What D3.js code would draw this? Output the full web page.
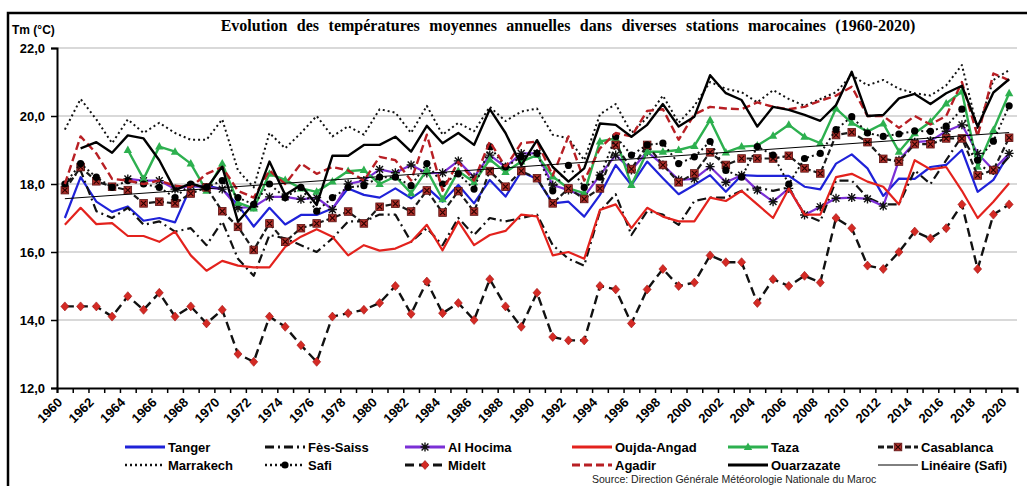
<!DOCTYPE html>
<html>
<head>
<meta charset="utf-8">
<script src="https://cdn.jsdelivr.net/npm/d3@7"></script>
<style>
  body { margin: 0; background: #fff; }
  svg { display: block; }
</style>
</head>
<body>
<svg id="chart" width="1027" height="486"></svg>
<script>
// Annual mean temperatures (°C) per station, 1960-2020
const years = d3.range(1960, 2021);
const yTicks = [12, 14, 16, 18, 20, 22];
const xLabelYears = years.filter(y => (y - 1960) % 2 === 0);

const tanger = [17.0, 18.2, 17.48, 17.18, 17.34, 16.92, 17.0, 16.87, 17.92, 17.95,
  17.85, 17.38, 16.75, 17.3, 16.81, 17.09, 17.09, 17.28, 17.87, 17.68,
  17.6, 17.87, 17.58, 17.9, 17.48, 17.97, 17.43, 18.12, 17.63, 18.36,
  18.15, 17.43, 17.48, 17.04, 17.68, 18.56, 17.97, 18.66, 18.17, 17.7,
  17.97, 18.26, 17.77, 18.26, 18.24, 18.24, 18.24, 17.92, 17.84, 18.6,
  18.87, 18.46, 17.65, 18.16, 18.15, 18.5, 18.56, 19.0, 17.77, 18.12,
  18.9];
const fesSaiss = [18.0, 18.4, 17.2, 17.0, 17.3, 16.8, 16.9, 16.6, 16.7, 16.2,
  16.9, 15.8, 15.3, 16.5, 16.4, 16.2, 16.0, 16.4, 16.9, 16.9,
  17.1, 17.1, 16.3, 16.7, 16.2, 17.0, 16.5, 17.0, 16.9, 17.0,
  17.1, 16.2, 15.8, 15.6, 17.2, 17.7, 16.5, 17.2, 17.1, 16.8,
  17.5, 17.6, 17.6, 17.8, 17.9, 17.8, 17.9, 17.1, 16.9, 18.1,
  18.1, 17.6, 17.4, 17.4, 18.4, 18.0, 18.7, 19.4, 18.6, 18.3,
  18.8];
const alHocima = [null, null, null, null, 18.15, 18.1, 18.1, 17.85, 17.95, 17.9,
  17.85, 17.3, 17.33, 17.62, 17.62, 17.55, 17.6, 17.25, 18.0, 18.1,
  18.43, 18.33, 18.56, 18.32, 18.33, 18.68, 18.2, 18.85, 18.5, 18.9,
  18.9, 17.97, 17.82, 17.63, 18.26, 18.85, 18.41, 18.95, 18.56, 18.12,
  18.15, 18.51, 18.05, 18.26, 17.82, 17.48, 17.87, 17.09, 17.33, 17.58,
  17.6, 17.56, 17.35, 18.7, 19.23, 19.27, 19.55, 19.74, 18.9, 18.41,
  18.9];
const oujdaAngad = [16.8, 17.3, 16.82, 16.85, 16.47, 16.47, 16.3, 16.6, 15.9, 15.45,
  15.74, 15.6, 15.55, 15.55, 16.15, 16.45, 16.67, 16.45, 15.9, 16.2,
  16.04, 16.1, 16.3, 16.8, 16.05, 16.9, 16.2, 16.5, 16.62, 17.1,
  17.05, 15.9, 16.0, 15.8, 17.24, 17.4, 16.7, 17.3, 17.04, 16.9,
  16.9, 17.6, 17.5, 17.8, 17.4, 17.0, 17.87, 17.1, 17.1, 18.2,
  18.3, 18.07, 17.92, 17.4, 18.7, 18.43, 18.5, 17.8, 17.0, 17.48,
  18.02];
const taza = [null, null, null, null, 19.0, 18.15, 19.1, 18.95, 18.6, 17.8,
  18.6, 17.45, 17.28, 18.3, 18.12, 17.87, 17.77, 18.07, 18.38, 18.41,
  18.0, 18.22, 17.73, 18.41, 17.55, 18.38, 18.05, 18.72, 18.35, 18.66,
  18.85, 18.22, 17.87, 17.73, 19.25, 19.34, 17.97, 18.95, 18.95, 19.0,
  19.12, 19.88, 18.93, 19.1, 19.13, 19.42, 19.74, 19.39, 19.2, 20.22,
  19.8, 19.54, 19.78, 18.95, 19.49, 19.83, 20.37, 20.72, 18.51, 19.59,
  20.67];
const casablanca = [17.82, 18.5, 18.08, 17.92, 17.82, 17.43, 17.48, 17.43, 17.72, 17.9,
  17.2, 16.74, 16.06, 16.84, 16.3, 16.7, 16.84, 17.0, 17.19, 16.84,
  17.33, 17.42, 17.19, 17.81, 17.16, 17.79, 17.19, 18.38, 17.92, 18.38,
  18.17, 17.43, 17.87, 17.56, 17.87, 19.15, 18.44, 19.15, 18.56, 18.05,
  18.31, 18.93, 18.56, 18.75, 18.75, 18.75, 18.83, 18.46, 18.31, 19.44,
  19.52, 19.23, 18.74, 18.66, 19.17, 19.17, 19.34, 19.34, 18.25, 18.41,
  19.36];
const marrakech = [19.6, 20.5, 19.9, 19.2, 19.9, 19.5, 19.8, 19.5, 19.3, 19.3,
  19.9, 18.4, 17.9, 19.5, 19.05, 19.5, 20.0, 19.4, 19.7, 19.45,
  20.2, 20.1, 19.5, 20.3, 19.45, 19.8, 19.55, 20.27, 19.85, 20.13,
  20.22, 19.45, 19.34, 18.7, 20.05, 20.35, 19.5, 19.95, 20.6, 19.8,
  20.3, 21.0, 20.8, 20.7, 20.4, 20.76, 20.5, 20.3, 20.5, 20.7,
  21.2, 20.9, 21.06, 20.8, 20.67, 20.6, 20.9, 21.5, 19.6, 21.06,
  21.35];
const safi = [18.0, 18.6, 18.2, 17.9, 18.1, 18.0, 17.9, 17.6, 18.0, 17.9,
  18.1, 17.6, 17.4, 18.0, 17.6, 17.9, 17.2, 17.6, 17.9, 17.95,
  18.2, 18.2, 17.95, 18.6, 18.0, 18.3, 17.85, 19.1, 18.5, 18.8,
  18.9, 17.8, 18.55, 17.9, 18.2, 19.4, 18.85, 19.15, 19.2, 18.6,
  18.8, 19.25, 18.4, 18.2, 19.1, 18.85, 18.0, 18.75, 18.9, 19.6,
  19.98, 19.5, 19.4, 19.47, 19.56, 19.55, 19.7, 20.2, 18.7, 19.26,
  20.3];
const midelt = [14.4, 14.4, 14.4, 14.1, 14.7, 14.3, 14.8, 14.1, 14.4, 13.9,
  14.3, 13.0, 12.77, 14.1, 13.8, 13.26, 12.77, 14.1, 14.2, 14.3,
  14.5, 15.0, 14.18, 15.13, 14.2, 14.5, 14.0, 15.2, 14.4, 13.8,
  14.8, 13.5, 13.4, 13.4, 15.0, 14.9, 13.9, 14.9, 15.5, 15.0,
  15.1, 15.9, 15.7, 15.7, 14.5, 15.2, 15.0, 15.3, 15.1, 17.0,
  16.7, 15.6, 15.5, 16.0, 16.6, 16.4, 16.7, 17.4, 15.5, 17.1,
  17.4];
const agadir = [18.0, 19.4, 18.9, 18.15, 18.1, 18.0, 18.1, 17.95, 17.9, 18.3,
  18.5, 17.8, 17.6, 18.4, 18.0, 18.6, 18.3, 18.5, 18.4, 18.1,
  18.8, 18.7, 18.1, 19.45, 17.8, 18.65, 18.1, 19.25, 18.5, 19.2,
  19.25, 18.25, 19.4, 18.1, 19.05, 19.5, 19.4, 20.15, 20.2, 19.3,
  20.05, 20.27, 20.22, 20.2, 20.4, 20.27, 20.2, 20.27, 20.45, 20.6,
  20.86, 20.0, 20.0, 19.65, 20.0, 19.75, 20.0, 21.0, 19.4, 21.25,
  21.05];
const ouarzazate = [null, 19.05, 19.23, 18.92, 19.43, 19.34, 18.7, 17.82, 18.02, 17.87,
  18.51, 16.89, 17.43, 18.66, 17.68, 17.97, 17.38, 18.83, 18.83, 19.15,
  19.15, 19.39, 18.95, 19.71, 19.2, 19.5, 19.15, 20.2, 19.5, 18.55,
  19.29, 18.5, 18.07, 18.46, 19.78, 19.74, 19.39, 19.74, 20.35, 19.69,
  19.98, 21.2, 20.67, 20.47, 19.69, 20.27, 20.18, 20.03, 19.86, 20.32,
  21.3, 20.0, 20.03, 20.52, 20.65, 20.35, 20.67, 20.89, 19.69, 20.69,
  21.08];

// Series drawing styles (legend order)
const series = [
  { name: "Tanger",      values: tanger,     color: "#1f22d8", width: 2.2, dash: null },
  { name: "Fès-Saiss",   values: fesSaiss,   color: "#111",    width: 2.2, dash: "9,4,2,4" },
  { name: "Al Hocima",   values: alHocima,   color: "#7b2fd6", width: 2.2, dash: null, marker: "asterisk" },
  { name: "Oujda-Angad", values: oujdaAngad, color: "#e3221d", width: 2.2, dash: null },
  { name: "Taza",        values: taza,       color: "#2db04f", width: 2.4, dash: null, marker: "triangle" },
  { name: "Casablanca",  values: casablanca, color: "#1a1a1a", width: 2.2, dash: "6,3", marker: "square" },
  { name: "Marrakech",   values: marrakech,  color: "#111",    width: 2.0, dash: "2,3" },
  { name: "Safi",        values: safi,       color: "#111",    width: 2.0, dash: "2,3", marker: "circle" },
  { name: "Midelt",      values: midelt,     color: "#111",    width: 2.4, dash: "9,5", marker: "diamond" },
  { name: "Agadir",      values: agadir,     color: "#b81f24", width: 2.4, dash: "8,4" },
  { name: "Ouarzazate",  values: ouarzazate, color: "#000",    width: 2.4, dash: null }
];

const svg = d3.select("#chart");
const plot = { left: 57, right: 1017, top: 48, bottom: 388 };

const x = d3.scaleBand().domain(years).range([plot.left, plot.right]).padding(0);
const cx = y => x(y) + x.bandwidth() / 2;
const y = d3.scaleLinear().domain([12, 22]).range([plot.bottom, plot.top]);

// outer frame
svg.append("rect")
  .attr("x", 8).attr("y", 13).attr("width", 1030).attr("height", 490)
  .attr("fill", "none").attr("stroke", "#000").attr("stroke-width", 2.5);

// title
svg.append("text")
  .attr("x", 568).attr("y", 31)
  .attr("text-anchor", "middle")
  .attr("font-family", "'Liberation Serif', 'Times New Roman', serif")
  .attr("font-weight", "bold").attr("font-size", 16)
  .attr("word-spacing", 5.5)
  .text("Evolution des températures moyennes annuelles dans diverses stations marocaines (1960-2020)");

// unit label
svg.append("text")
  .attr("x", 12).attr("y", 34)
  .attr("font-family", "'Liberation Sans', Arial, sans-serif")
  .attr("font-weight", "bold").attr("font-size", 12)
  .text("Tm (°C)");

// horizontal gridlines
svg.append("g").selectAll("line")
  .data(yTicks.filter(t => t > 12))
  .join("line")
  .attr("x1", plot.left).attr("x2", plot.right)
  .attr("y1", d => y(d)).attr("y2", d => y(d))
  .attr("stroke", "#b4b4b4").attr("stroke-width", 1.2);

// y axis
const yAxis = svg.append("g")
  .attr("transform", `translate(${plot.left},0)`)
  .call(d3.axisLeft(y).tickValues(yTicks).tickSize(6).tickPadding(6)
    .tickFormat(d => d.toFixed(1).replace(".", ",")));
yAxis.selectAll("text")
  .attr("font-family", "'Liberation Sans', Arial, sans-serif")
  .attr("font-weight", "bold").attr("font-size", 13).attr("fill", "#000");
yAxis.selectAll("line").attr("stroke", "#000").attr("stroke-width", 1.5);
yAxis.select(".domain").attr("stroke", "#000").attr("stroke-width", 2);

// x axis: ticks on category boundaries
const xb = d3.scaleLinear().domain([0, years.length]).range([plot.left, plot.right]);
const xAxis = svg.append("g")
  .attr("transform", `translate(0,${plot.bottom})`)
  .call(d3.axisBottom(xb).tickValues(d3.range(0, years.length + 1)).tickSize(5).tickFormat(""));
xAxis.selectAll("line").attr("stroke", "#000").attr("stroke-width", 1.5);
xAxis.select(".domain").attr("stroke", "#000").attr("stroke-width", 2);

// rotated year labels
svg.append("g").selectAll("text")
  .data(xLabelYears)
  .join("text")
  .attr("transform", d => `translate(${cx(d) - 5},${plot.bottom + 12}) rotate(-45)`)
  .attr("text-anchor", "end")
  .attr("dy", "0.35em")
  .attr("font-family", "'Liberation Sans', Arial, sans-serif")
  .attr("font-weight", "bold").attr("font-size", 13)
  .text(d => d);

// marker drawing
function drawMarker(g, type, px, py, s) {
  if (type === "circle") {
    g.append("circle").attr("cx", px).attr("cy", py).attr("r", 3.6).attr("fill", "#000");
  } else if (type === "triangle") {
    g.append("path")
      .attr("d", `M${px},${py - 4.5}L${px + 4.2},${py + 3}L${px - 4.2},${py + 3}Z`)
      .attr("fill", s.color);
  } else if (type === "diamond") {
    g.append("path")
      .attr("d", `M${px},${py - 4.5}L${px + 4},${py}L${px},${py + 4.5}L${px - 4},${py}Z`)
      .attr("fill", "#d42a24").attr("stroke", "#a01010").attr("stroke-width", 0.6);
  } else if (type === "square") {
    g.append("rect").attr("x", px - 3.8).attr("y", py - 3.8).attr("width", 7.6).attr("height", 7.6)
      .attr("fill", "#b0302a").attr("stroke", "#5a1010").attr("stroke-width", 0.8);
    g.append("path")
      .attr("d", `M${px - 2.6},${py - 2.6}L${px + 2.6},${py + 2.6}M${px - 2.6},${py + 2.6}L${px + 2.6},${py - 2.6}`)
      .attr("stroke", "#2a0000").attr("stroke-width", 1.1);
  } else if (type === "asterisk") {
    g.append("path")
      .attr("d", `M${px - 4.5},${py}H${px + 4.5}M${px},${py - 4.5}V${py + 4.5}` +
        `M${px - 3.4},${py - 3.4}L${px + 3.4},${py + 3.4}M${px - 3.4},${py + 3.4}L${px + 3.4},${py - 3.4}`)
      .attr("stroke", "#111").attr("stroke-width", 1.4);
  }
}

const line = d3.line()
  .defined(d => d.v !== null)
  .x(d => cx(d.year))
  .y(d => y(d.v));

const gSeries = svg.append("g");
series.forEach(s => {
  const pts = years.map((yr, i) => ({ year: yr, v: s.values[i] }));
  const g = gSeries.append("g");
  g.append("path")
    .datum(pts)
    .attr("d", line)
    .attr("fill", "none")
    .attr("stroke", s.color)
    .attr("stroke-width", s.width)
    .attr("stroke-linejoin", "round")
    .attr("stroke-dasharray", s.dash);
  if (s.marker) {
    pts.filter(d => d.v !== null).forEach(d => drawMarker(g, s.marker, cx(d.year), y(d.v), s));
  }
});

// linear trend of Safi (least squares)
const idx = years.map((yr, i) => i);
const mx = d3.mean(idx), my = d3.mean(safi);
const slope = d3.sum(idx, i => (i - mx) * (safi[i] - my)) / d3.sum(idx, i => (i - mx) ** 2);
const icpt = my - slope * mx;
const trend = years.map((yr, i) => ({ year: yr, v: icpt + slope * i }));
svg.append("path")
  .datum([trend[0], trend[trend.length - 1]])
  .attr("d", line)
  .attr("fill", "none").attr("stroke", "#000").attr("stroke-width", 1);

// legend
const legendCols = [125, 265, 405, 572, 728, 878];
const legendRows = [447, 465];
const legendItems = series.map(s => ({ ...s }))
  .concat([{ name: "Linéaire (Safi)", color: "#000", width: 1, dash: null }]);
const gLeg = svg.append("g");
legendItems.forEach((s, i) => {
  const lx = legendCols[i % 6], ly = legendRows[Math.floor(i / 6)];
  const g = gLeg.append("g");
  g.append("line")
    .attr("x1", lx).attr("x2", lx + 40).attr("y1", ly).attr("y2", ly)
    .attr("stroke", s.color).attr("stroke-width", Math.max(s.width, 1) + (s.width > 1 ? 0.6 : 0))
    .attr("stroke-dasharray", s.dash);
  if (s.marker) drawMarker(g, s.marker, lx + 20, ly, s);
  g.append("text")
    .attr("x", lx + 43).attr("y", ly + 4.5)
    .attr("font-family", "'Liberation Sans', Arial, sans-serif")
    .attr("font-weight", "bold").attr("font-size", 13)
    .text(s.name);
});

// source note
svg.append("text")
  .attr("x", 592).attr("y", 483)
  .attr("font-family", "'Liberation Sans', Arial, sans-serif")
  .attr("font-size", 10.5).attr("fill", "#222")
  .text("Source: Direction Générale Météorologie Nationale du Maroc");
</script>
</body>
</html>
